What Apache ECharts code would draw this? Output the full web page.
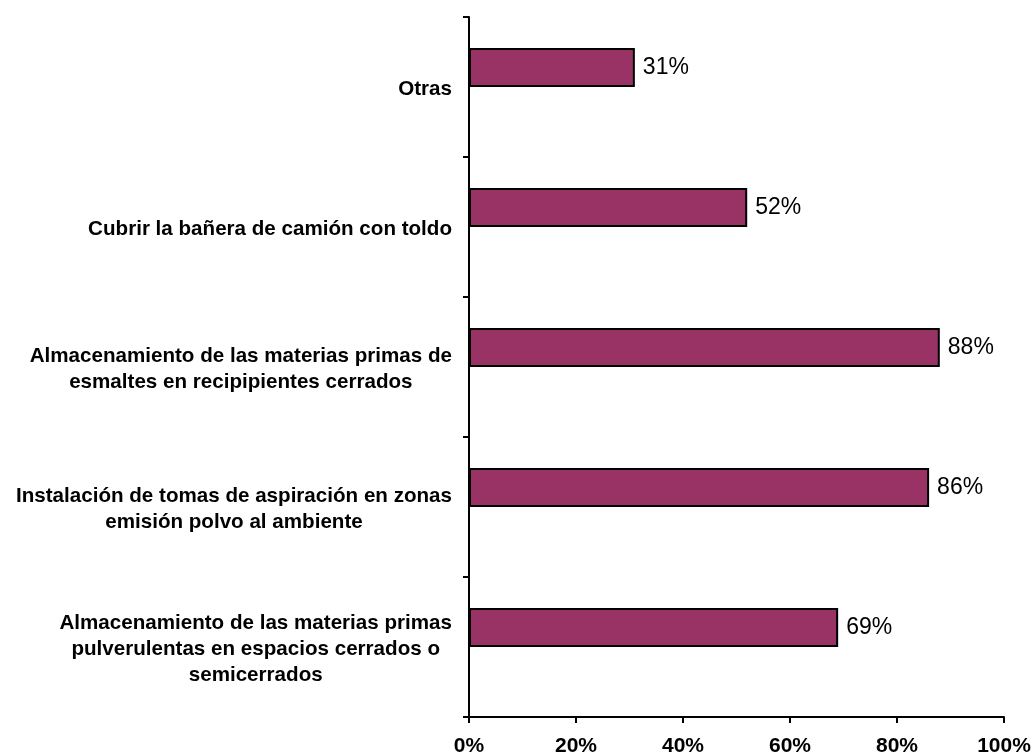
<!DOCTYPE html>
<html>
<head>
<meta charset="utf-8">
<script src="https://cdn.jsdelivr.net/npm/echarts@6/dist/echarts.min.js"></script>
<style>
  html, body { margin: 0; padding: 0; background: #ffffff; }
  #chart { width: 1031px; height: 756px; }
</style>
</head>
<body>
<div id="chart"></div>
<script>
// Categories listed bottom to top (category axis starts at the bottom)
const categories = [
  'Almacenamiento de las materias primas\npulverulentas en espacios cerrados o\nsemicerrados',
  'Instalación de tomas de aspiración en zonas\nemisión polvo al ambiente',
  'Almacenamiento de las materias primas de\nesmaltes en recipipientes cerrados',
  'Cubrir la bañera de camión con toldo',
  'Otras'
];
// Share of companies applying each measure (%)
const values = [69, 86, 88, 52, 31];
// Value axis ticks
const xTicks = [0, 20, 40, 60, 80, 100];

const FONT = 'Arial, "Liberation Sans", sans-serif';

const chart = echarts.init(document.getElementById('chart'), null, { renderer: 'canvas' });

chart.setOption({
  backgroundColor: '#ffffff',
  animation: false,
  grid: {
    left: 469, right: 27, top: 17, bottom: 39,
    containLabel: false,
    outerBoundsMode: 'none'
  },
  xAxis: {
    type: 'value',
    min: xTicks[0],
    max: xTicks[xTicks.length - 1],
    interval: xTicks[1] - xTicks[0],
    axisLine: { show: true, lineStyle: { color: '#000', width: 2 } },
    axisTick: { show: true, length: 6, lineStyle: { color: '#000', width: 2 } },
    splitLine: { show: false },
    axisLabel: {
      formatter: '{value}%',
      color: '#000',
      fontFamily: FONT,
      fontWeight: 'bold',
      fontSize: 21,
      margin: 19
    }
  },
  yAxis: {
    type: 'category',
    data: categories,
    axisLine: { show: true, lineStyle: { color: '#000', width: 2 } },
    axisTick: { show: true, length: 6, alignWithLabel: false, lineStyle: { color: '#000', width: 2 } },
    axisLabel: {
      margin: 17,
      padding: [4, 0, 0, 0],
      color: '#000',
      formatter: function (v) {
        return v.split('\n').map(function (l) { return '{c|' + l + '}'; }).join('\n');
      },
      rich: {
        c: {
          align: 'center',
          color: '#000',
          fontFamily: FONT,
          fontWeight: 'bold',
          fontSize: 20.6,
          lineHeight: 26
        }
      }
    }
  },
  series: [
    {
      type: 'bar',
      data: values,
      barWidth: 39,
      barGap: '0%',
      itemStyle: { color: '#993366', borderColor: '#000', borderWidth: 2 },
      label: {
        show: true,
        position: 'right',
        distance: 8,
        formatter: '{c}%',
        color: '#000',
        fontFamily: FONT,
        fontSize: 23
      }
    },
    {
      // empty companion series that keeps the bars off-centre in each band
      type: 'bar',
      data: values.map(function () { return null; }),
      barWidth: 39,
      barGap: '0%',
      itemStyle: { color: 'transparent' }
    }
  ]
});
</script>
</body>
</html>
